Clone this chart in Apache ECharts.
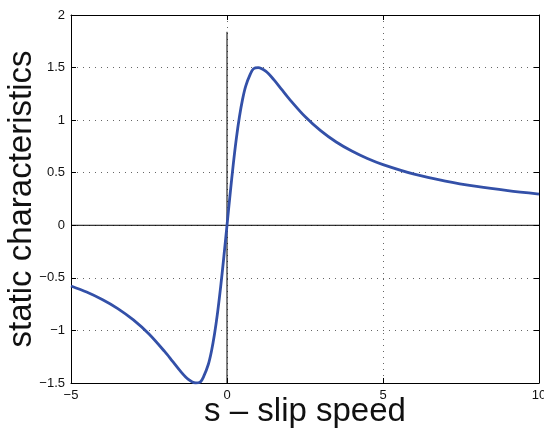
<!DOCTYPE html>
<html>
<head>
<meta charset="utf-8">
<script src="https://cdn.jsdelivr.net/npm/echarts@6/dist/echarts.min.js"></script>
<style>
html,body{margin:0;padding:0;background:#fff;}
#c{width:544px;height:429px;}
</style>
</head>
<body>
<div id="c"></div>
<script>
// Data
const slipSpeed = [-5, -4.5, -4, -3.5, -3, -2.5, -2, -1.75, -1.5, -1.25, -1, -0.85, -0.75, -0.6, -0.5, -0.4, -0.3, -0.2, -0.1, 0,
  0.1, 0.2, 0.3, 0.4, 0.5, 0.6, 0.75, 0.85, 1, 1.25, 1.5, 1.75, 2, 2.5, 3, 3.5, 4, 4.5, 5, 6, 7, 8, 9, 10];
const staticChar = [-0.577, -0.635, -0.706, -0.792, -0.900, -1.034, -1.200, -1.292, -1.385, -1.463, -1.500, -1.489, -1.440, -1.324, -1.200, -1.034, -0.826, -0.577, -0.297, 0,
  0.297, 0.577, 0.826, 1.034, 1.200, 1.324, 1.440, 1.489, 1.500, 1.463, 1.385, 1.292, 1.200, 1.034, 0.900, 0.792, 0.706, 0.635, 0.577, 0.486, 0.420, 0.369, 0.329, 0.297];
const hLineX = [-5, 10];
const hLineY = [0, 0];
const vLineX = [0, 0];
const vLineY = [-1.5, 1.84];
const xTicks = [-5, 0, 5, 10];
const yTicks = [-1.5, -1, -0.5, 0, 0.5, 1, 1.5, 2];

const fmt = v => String(v).replace('-', '\u2212');
const font = 'Liberation Sans, Arial, Helvetica, sans-serif';
const gridDot = {color: '#666', width: 1, type: [1, 5]};

const chart = echarts.init(document.getElementById('c'));
chart.setOption({
  animation: false,
  backgroundColor: '#fff',
  grid: {left: 71, right: 5, top: 15, bottom: 46, containLabel: false, outerBoundsMode: 'none'},
  xAxis: [{
    type: 'value', min: xTicks[0], max: xTicks[xTicks.length - 1], interval: 5,
    position: 'bottom',
    axisLine: {onZero: false, lineStyle: {color: '#000', width: 1}},
    axisTick: {inside: true, length: 5, lineStyle: {color: '#000'}},
    axisLabel: {formatter: fmt, color: '#111', fontSize: 13, fontFamily: font, margin: 6},
    splitLine: {show: true, lineStyle: gridDot},
    name: 's \u2013 slip speed', nameLocation: 'middle', nameGap: 12, nameMoveOverlap: false,
    nameTextStyle: {fontSize: 33, color: '#111', fontFamily: font}
  }, {
    type: 'value', min: -5, max: 10, interval: 5, position: 'top',
    axisLine: {onZero: false, lineStyle: {color: '#000', width: 1}},
    axisTick: {inside: true, length: 5, lineStyle: {color: '#000'}},
    axisLabel: {show: false}, splitLine: {show: false}
  }],
  yAxis: [{
    type: 'value', min: yTicks[0], max: yTicks[yTicks.length - 1], interval: 0.5,
    position: 'left',
    axisLine: {onZero: false, show: true, lineStyle: {color: '#000', width: 1}},
    axisTick: {show: true, inside: true, length: 5, lineStyle: {color: '#000'}},
    axisLabel: {formatter: fmt, color: '#111', fontSize: 13, fontFamily: font, margin: 6},
    splitLine: {show: true, lineStyle: gridDot},
    name: 'static characteristics', nameLocation: 'middle', nameGap: 33, nameMoveOverlap: false,
    nameTextStyle: {fontSize: 33, color: '#111', fontFamily: font}
  }, {
    type: 'value', min: -1.5, max: 2, interval: 0.5, position: 'right',
    axisLine: {onZero: false, show: true, lineStyle: {color: '#000', width: 1}},
    axisTick: {show: true, inside: true, length: 5, lineStyle: {color: '#000'}},
    axisLabel: {show: false}, splitLine: {show: false}
  }],
  series: [{
    type: 'line', data: hLineX.map((x, i) => [x, hLineY[i]]),
    symbol: 'none', lineStyle: {color: '#000', width: 1}, z: 2, silent: true
  }, {
    type: 'line', data: vLineX.map((x, i) => [x, vLineY[i]]),
    symbol: 'none', lineStyle: {color: '#000', width: 1}, z: 2, silent: true
  }, {
    type: 'line', data: slipSpeed.map((x, i) => [x, staticChar[i]]),
    symbol: 'none', smooth: 0.3, clip: true,
    lineStyle: {color: '#3350a8', width: 2.8}, z: 3
  }]
});
</script>
</body>
</html>
